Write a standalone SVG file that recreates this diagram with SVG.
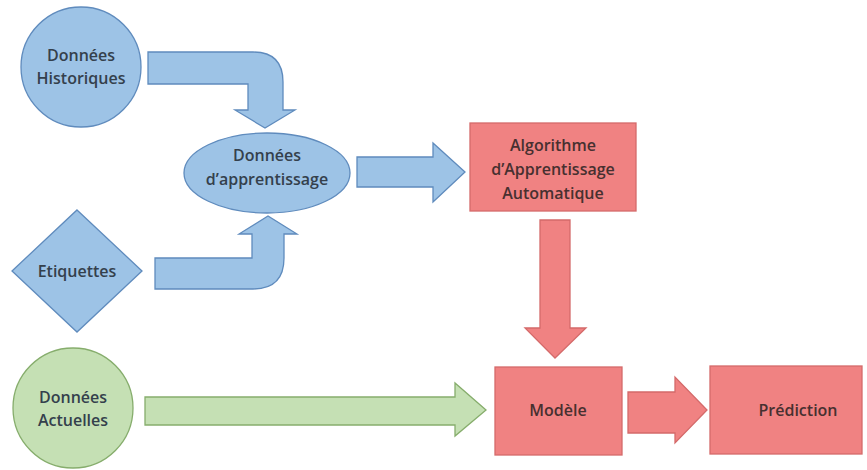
<svg xmlns="http://www.w3.org/2000/svg" width="867" height="470" viewBox="0 0 867 470">
<style>
.b{fill:#9dc3e6;stroke:#5f8bbd;stroke-width:1.3}
.r{fill:#f08282;stroke:#d46a6a;stroke-width:1.3}
.g{fill:#c5e0b4;stroke:#86ad6c;stroke-width:1.3}
text{font-family:"Open Sans","Liberation Sans",sans-serif;font-size:16px;font-weight:600;text-anchor:middle;fill:#34404c}
.rt{fill:#473030}
</style>
<rect width="867" height="470" fill="#fff"/>
<g id="connectors">
<path class="b" d="M148,52 H253 Q283,52 283,82 V110 H295 L265,128 L235,110 H248 V84 H148 Z"/>
<path class="b" d="M155,289 H253 Q284,289 284,258 V234 H297 L268,216 L239,234 H252 V258 H155 Z"/>
<path class="b" d="M357,157 H433 V143 L465,172 L433,202 V187 H357 Z"/>
<path class="r" d="M540,220 H570 V328 H586 L555,358 L525,328 H540 Z"/>
<path class="g" d="M145,397 H455 V383 L486,410 L455,436 V425 H145 Z"/>
<path class="r" d="M628,392 H675 V377 L707,410 L675,443 V433 H628 Z"/>
</g>
<g id="historiques"><circle class="b" cx="81" cy="67" r="60"/><text x="81" y="61">Données</text><text x="81" y="84">Historiques</text></g>
<g id="apprentissage"><ellipse class="b" cx="267" cy="173" rx="83" ry="40"/><text x="267" y="161">Données</text><text x="267" y="185">d’apprentissage</text></g>
<g id="etiquettes"><polygon class="b" points="77,210 142,271 77,332 12,271"/><text x="77" y="277">Etiquettes</text></g>
<g id="algorithme"><rect class="r" x="470" y="123" width="166" height="88"/><text class="rt" x="553" y="151">Algorithme</text><text class="rt" x="553" y="175">d’Apprentissage</text><text class="rt" x="553" y="199">Automatique</text></g>
<g id="actuelles"><circle class="g" cx="73" cy="408" r="60"/><text x="73" y="403">Données</text><text x="73" y="426">Actuelles</text></g>
<g id="modele"><rect class="r" x="495" y="367" width="127" height="88"/><text class="rt" x="558" y="416">Modèle</text></g>
<g id="prediction"><rect class="r" x="710" y="366" width="152" height="88"/><text class="rt" x="798" y="416">Prédiction</text></g>
</svg>
